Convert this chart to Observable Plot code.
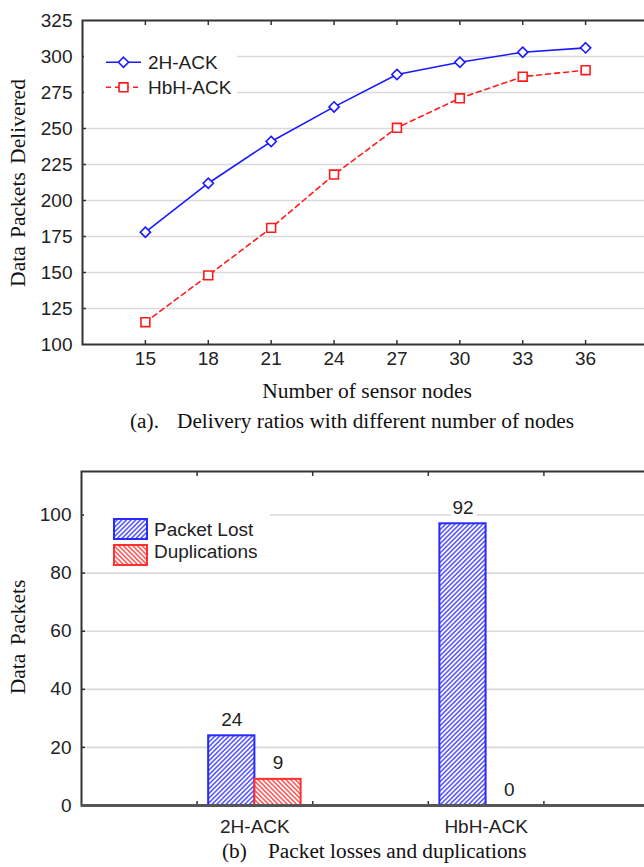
<!DOCTYPE html>
<html><head><meta charset="utf-8">
<script src="https://cdn.jsdelivr.net/npm/d3@7"></script>
<script src="https://cdn.jsdelivr.net/npm/@observablehq/plot@0.6"></script>
<style>
html,body{margin:0;padding:0;background:#fff;overflow:hidden;}
#root{position:relative;width:644px;height:867px;overflow:hidden;background:#fff;}
#root svg{position:absolute;left:0;max-width:none !important;}
</style></head><body>
<svg width="0" height="0" style="position:absolute">
<defs>
<pattern id="hatchBlue" patternUnits="userSpaceOnUse" width="3.3" height="3.3" patternTransform="rotate(45)">
<rect width="3.3" height="3.3" fill="#fff"/>
<line x1="1.65" y1="0" x2="1.65" y2="3.3" stroke="#5050ff" stroke-width="1.5"/>
</pattern>
<pattern id="hatchRed" patternUnits="userSpaceOnUse" width="3.3" height="3.3" patternTransform="rotate(-45)">
<rect width="3.3" height="3.3" fill="#fff"/>
<line x1="1.65" y1="0" x2="1.65" y2="3.3" stroke="#ff5050" stroke-width="1.5"/>
</pattern>
</defs></svg>
<div id="root"></div>
<script>
// ---- Panel (a) data ----
const nodes = [15, 18, 21, 24, 27, 30, 33, 36];
const delivered2H = [178, 212, 241, 265, 287.5, 296, 303, 306];
const deliveredHbH = [115.5, 148, 181, 218, 250.5, 271, 286, 290.5];
const yTicksA = [100, 125, 150, 175, 200, 225, 250, 275, 300, 325];
const seriesA = ["2H-ACK", "HbH-ACK"];

// ---- Panel (b) data ----
const categories = ["2H-ACK", "HbH-ACK"];
const packetLost = [24, 97];
const packetLostLabels = ["24", "92"];
const duplications = [9, 0];
const duplicationLabels = ["9", "0"];
const yTicksB = [0, 20, 40, 60, 80, 100];
const seriesB = ["Packet Lost", "Duplications"];

const BLUE = "#1a1aff", RED = "#ff1a1a";
const SANS = "'Liberation Sans', Arial, sans-serif";
const SERIF = "'Liberation Serif', 'Times New Roman', serif";
const FRAME = "#333";
const GRID = "#d9d9d9";
const baseStyle = {fontFamily: SANS, fontSize: "19px", color: "#222", background: "transparent", overflow: "visible", maxWidth: "none"};

const root = document.getElementById("root");

// ---------- Panel (a) ----------
const rows2H = nodes.map((n, i) => ({n, v: delivered2H[i]}));
const rowsHbH = nodes.map((n, i) => ({n, v: deliveredHbH[i]}));

const plotA = Plot.plot({
  width: 662, height: 375,
  marginLeft: 82, marginRight: 14, marginTop: 20, marginBottom: 31,
  x: {domain: [12, 39]},
  y: {domain: [100, 325]},
  style: baseStyle,
  marks: [
    Plot.gridY(yTicksA.slice(1, -1), {stroke: GRID, strokeOpacity: 1, strokeWidth: 1.6}),
    Plot.axisY({ticks: yTicksA, tickSize: 0, tickPadding: 10, label: null, fontSize: 19}),
    Plot.axisY({ticks: yTicksA.slice(1, -1), tickSize: -4, text: null, label: null, stroke: FRAME, strokeWidth: 1.5}),
    Plot.axisX({ticks: nodes, tickSize: 0, tickPadding: 7, label: null, fontSize: 19}),
    Plot.axisX({ticks: nodes, anchor: "bottom", tickSize: -4, text: null, label: null, stroke: FRAME, strokeWidth: 1.5}),
    Plot.axisX({ticks: nodes, anchor: "top", tickSize: -4, text: null, label: null, stroke: FRAME, strokeWidth: 1.5}),
    Plot.frame({stroke: FRAME, strokeWidth: 2}),
    Plot.line(rowsHbH, {x: "n", y: "v", stroke: RED, strokeWidth: 1.6, strokeDasharray: "5,4"}),
    Plot.line(rows2H, {x: "n", y: "v", stroke: BLUE, strokeWidth: 1.6}),
    Plot.dot(rowsHbH, {x: "n", y: "v", symbol: "square", r: 5, stroke: RED, fill: "#fff", strokeWidth: 1.6}),
    Plot.dot(rows2H, {x: "n", y: "v", symbol: "diamond2", r: 4.6, stroke: BLUE, fill: "#fff", strokeWidth: 1.6})
  ]
});
plotA.style.top = "0px";
root.appendChild(plotA);

// ---------- Panel (b) ----------
const BW = 0.2; // bar width in group units
const rowsLost = categories.map((c, i) => ({g: i + 1, v: packetLost[i], label: packetLostLabels[i]}));
const rowsDup = categories.map((c, i) => ({g: i + 1, v: duplications[i], label: duplicationLabels[i]}));

const plotB = Plot.plot({
  width: 670, height: 410,
  marginLeft: 81, marginRight: 11, marginTop: 31, marginBottom: 45,
  x: {domain: [0.25, 2.75]},
  y: {domain: [0, 115]},
  style: baseStyle,
  marks: [
    Plot.gridY(yTicksB.slice(1), {stroke: GRID, strokeOpacity: 1, strokeWidth: 1.6}),
    Plot.axisY({ticks: yTicksB, tickSize: 0, tickPadding: 10, label: null, fontSize: 19}),
    Plot.axisY({ticks: yTicksB.slice(1), tickSize: -4, text: null, label: null, stroke: FRAME, strokeWidth: 1.5}),
    Plot.axisX({ticks: [1, 2], tickFormat: d => categories[d - 1], tickSize: 0, tickPadding: 14, label: null, fontSize: 19}),
    Plot.axisX({ticks: [0.75, 1.25, 1.75, 2.25], anchor: "bottom", tickSize: -4, text: null, label: null, stroke: FRAME, strokeWidth: 1.5}),
    Plot.axisX({ticks: [0.75, 1.25, 1.75, 2.25], anchor: "top", tickSize: -4, text: null, label: null, stroke: FRAME, strokeWidth: 1.5}),
    Plot.rectY(rowsLost, {x1: d => d.g - BW, x2: d => d.g, y1: 0, y2: "v", fill: "url(#hatchBlue)", stroke: "#2a2aff", strokeWidth: 2}),
    Plot.rectY(rowsDup.filter(d => d.v > 0), {x1: d => d.g, x2: d => d.g + BW, y1: 0, y2: "v", fill: "url(#hatchRed)", stroke: "#ff3030", strokeWidth: 2}),
    Plot.text(rowsLost, {x: d => d.g - BW / 2, y: "v", text: "label", dy: -10, lineAnchor: "bottom", fontSize: 19, fill: "#222", stroke: "#fff", strokeWidth: 8, paintOrder: "stroke"}),
    Plot.text(rowsDup, {x: d => d.g + BW / 2, y: "v", text: "label", dy: -10, lineAnchor: "bottom", fontSize: 19, fill: "#222", stroke: "#fff", strokeWidth: 8, paintOrder: "stroke"}),
    Plot.frame({stroke: FRAME, strokeWidth: 2}),
    Plot.ruleY([0], {stroke: "#555", strokeWidth: 3})
  ]
});
plotB.style.top = "440px";
root.appendChild(plotB);

// ---------- Overlay: legends, titles, captions ----------
const ov = d3.select(root).append("svg")
  .attr("width", 644).attr("height", 867).style("top", "0px").style("pointer-events", "none");

// Legend (a)
ov.append("rect").attr("x", 84).attr("y", 44).attr("width", 153).attr("height", 58).attr("fill", "#fff");
const legA = [
  {name: seriesA[0], y: 62.3, color: BLUE, dash: null, sym: d3.symbolDiamond2, size: Math.PI * 4.6 * 4.6},
  {name: seriesA[1], y: 87.3, color: RED, dash: "5,4", sym: d3.symbolSquare, size: Math.PI * 5 * 5}
];
for (const e of legA) {
  ov.append("line").attr("x1", 106).attr("x2", 141).attr("y1", e.y).attr("y2", e.y)
    .attr("stroke", e.color).attr("stroke-width", 1.6).attr("stroke-dasharray", e.dash);
  ov.append("path").attr("d", d3.symbol(e.sym, e.size)()).attr("transform", `translate(123.5,${e.y})`)
    .attr("fill", "#fff").attr("stroke", e.color).attr("stroke-width", 1.6);
  ov.append("text").attr("x", 148).attr("y", e.y + 6.5).text(e.name)
    .attr("font-family", SANS).attr("font-size", 19).attr("fill", "#222");
}

// Legend (b)
ov.append("rect").attr("x", 84).attr("y", 503).attr("width", 186).attr("height", 66).attr("fill", "#fff");
const legB = [
  {name: seriesB[0], y: 519, fill: "url(#hatchBlue)", stroke: "#2a2aff", ty: 536},
  {name: seriesB[1], y: 545, fill: "url(#hatchRed)", stroke: "#ff3030", ty: 558}
];
for (const e of legB) {
  ov.append("rect").attr("x", 114).attr("y", e.y).attr("width", 33).attr("height", 20)
    .attr("fill", e.fill).attr("stroke", e.stroke).attr("stroke-width", 2);
  ov.append("text").attr("x", 154).attr("y", e.ty).text(e.name)
    .attr("font-family", SANS).attr("font-size", 19).attr("fill", "#222");
}

// Titles
function serifText(x, y, txt, opts = {}) {
  const t = ov.append("text").attr("x", x).attr("y", y).text(txt)
    .attr("font-family", SERIF).attr("font-size", opts.size || 21.3).attr("fill", "#111")
    .attr("text-anchor", opts.anchor || "start").style("white-space", "pre");
  if (opts.rotate) t.attr("transform", `rotate(-90 ${x} ${y})`);
  if (opts.ws) t.style("word-spacing", opts.ws + "px");
  return t;
}
serifText(25, 183, "Data Packets Delivered", {anchor: "middle", rotate: true, size: 21.5, ws: 3});
serifText(367, 398, "Number of sensor nodes", {anchor: "middle", size: 21.5});
serifText(130, 428, "(a).");
serifText(177, 428, "Delivery ratios with different number of nodes");
serifText(25, 637, "Data Packets", {anchor: "middle", rotate: true, size: 21.5, ws: 3});
serifText(222, 858, "(b)");
serifText(268, 858, "Packet losses and duplications");
</script>
</body></html>
